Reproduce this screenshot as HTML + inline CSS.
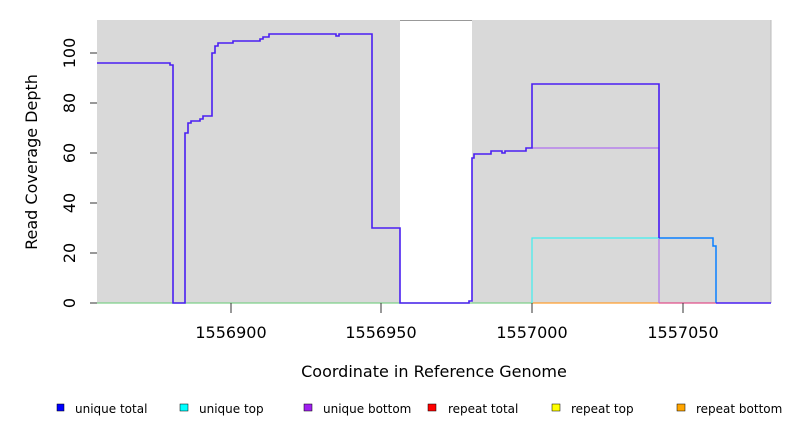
<!DOCTYPE html><html><head><style>body{margin:0;background:#fff}svg{display:block;font-family:"DejaVu Sans","Liberation Sans",sans-serif}</style></head><body>
<svg width="792" height="432" viewBox="0 0 792 432">
<rect x="97" y="20" width="674" height="283" fill="#d9d9d9"/>
<rect x="400" y="20" width="72" height="283" fill="#fff"/>
<line x1="400" y1="20.5" x2="472" y2="20.5" stroke="#999"/>
<line x1="771" y1="20" x2="771" y2="303" stroke="#bbb"/>
<line x1="97" y1="303" x2="532" y2="303" stroke="#7fd08a" stroke-width="1.2"/>
<line x1="532" y1="303" x2="659" y2="303" stroke="#ff9f30" stroke-width="1.2"/>
<line x1="659" y1="303" x2="716" y2="303" stroke="#e0508a" stroke-width="1.2"/>
<polyline fill="none" stroke="#b070f0" stroke-width="1.2" points="532,148 659,148 659,303"/>
<polyline fill="none" stroke="#40f0f0" stroke-width="1.2" points="532,303 532,238 659,238"/>
<polyline fill="none" stroke="#0a80ff" stroke-width="1.5" points="659,238 713,238 713,246 716,246 716,303"/>
<polyline fill="none" stroke="#4a1ff2" stroke-width="1.6" points="97,63 170,63 170,65 173,65 173,303 185,303 185,133 188,133 188,123 191,123 191,121 200,121 200,119 203,119 203,116 212,116 212,53 215,53 215,46 218,46 218,43 233,43 233,41 260,41 260,39 263,39 263,37 269,37 269,34 336,34 336,36 339,36 339,34 372,34 372,228 400,228 400,303 469,303 469,301 472,301 472,158 474,158 474,154 491,154 491,151 502,151 502,153 505,153 505,151 526,151 526,148 532,148 532,84 659,84 659,238"/>
<polyline fill="none" stroke="#4a1ff2" stroke-width="1.6" points="716,303 771,303"/>
<g stroke="#333" stroke-width="1">
<line x1="90" y1="303" x2="97" y2="303"/><line x1="90" y1="253" x2="97" y2="253"/><line x1="90" y1="203" x2="97" y2="203"/><line x1="90" y1="153" x2="97" y2="153"/><line x1="90" y1="103" x2="97" y2="103"/><line x1="90" y1="53" x2="97" y2="53"/>
<line x1="231" y1="303" x2="231" y2="313"/><line x1="381" y1="303" x2="381" y2="313"/><line x1="532" y1="303" x2="532" y2="313"/><line x1="683" y1="303" x2="683" y2="313"/>
</g>
<g font-size="16" fill="#000" text-anchor="middle">
<text transform="translate(75,303) rotate(-90)">0</text>
<text transform="translate(75,253) rotate(-90)">20</text>
<text transform="translate(75,203) rotate(-90)">40</text>
<text transform="translate(75,153) rotate(-90)">60</text>
<text transform="translate(75,103) rotate(-90)">80</text>
<text transform="translate(75,53) rotate(-90)">100</text>
<text x="231" y="338">1556900</text><text x="381" y="338">1556950</text><text x="532" y="338">1557000</text><text x="683" y="338">1557050</text>
<text x="434" y="377">Coordinate in Reference Genome</text>
<text transform="translate(37,162) rotate(-90)">Read Coverage Depth</text>
</g>
<g font-size="12" fill="#000">
<rect x="57" y="404" width="7" height="7" fill="#0000ff" stroke="#000" stroke-width=".5"/><text x="75" y="413">unique total</text>
<rect x="180" y="404" width="8" height="7" fill="#00ffff" stroke="#000" stroke-width=".5"/><text x="199" y="413">unique top</text>
<rect x="304" y="404" width="8" height="7" fill="#a020f0" stroke="#000" stroke-width=".5"/><text x="323" y="413">unique bottom</text>
<rect x="428" y="404" width="8" height="7" fill="#ff0000" stroke="#000" stroke-width=".5"/><text x="448" y="413">repeat total</text>
<rect x="552" y="404" width="8" height="7" fill="#ffff00" stroke="#000" stroke-width=".5"/><text x="571" y="413">repeat top</text>
<rect x="677" y="404" width="8" height="7" fill="#ffa500" stroke="#000" stroke-width=".5"/><text x="696" y="413">repeat bottom</text>
</g>
</svg></body></html>
